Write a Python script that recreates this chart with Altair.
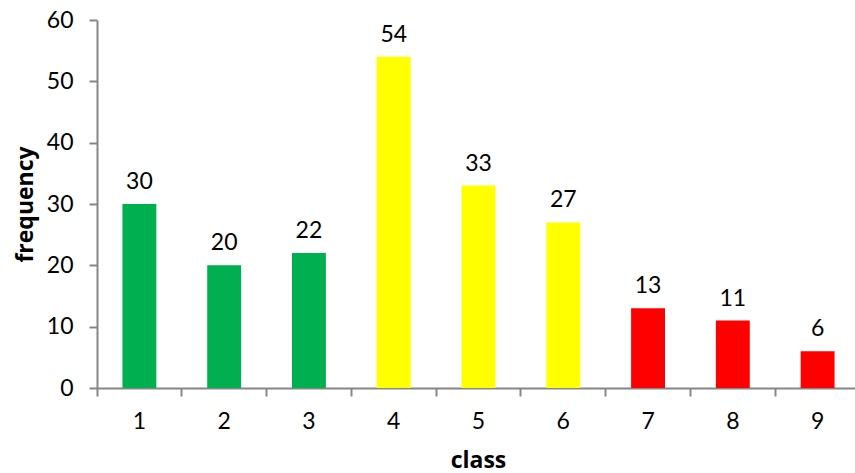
import altair as alt
import pandas as pd

classes = ["1", "2", "3", "4", "5", "6", "7", "8", "9"]
frequency = [30, 20, 22, 54, 33, 27, 13, 11, 6]
groups = ["low", "low", "low", "mid", "mid", "mid", "high", "high", "high"]
group_names = ["low", "mid", "high"]
group_colors = ["#00B050", "#FFFF00", "#FF0000"]
y_ticks = [0, 10, 20, 30, 40, 50, 60]

df = pd.DataFrame({"class": classes, "frequency": frequency, "group": groups})

W = 758
RANGE = 763
H = 368
AXIS_COLOR = "#868686"
FONT = "Lato"
TITLE_FONT = "Open Sans"

x = alt.X(
    "class:N",
    sort=classes,
    title="class",
    scale=alt.Scale(range=[0, RANGE], paddingInner=0.6, paddingOuter=0.3),
    axis=alt.Axis(
        labelAngle=0,
        bandPosition=-0.75,
        tickSize=8,
        tickWidth=2,
        tickColor=AXIS_COLOR,
        domainColor=AXIS_COLOR,
        domainWidth=2,
        labelPadding=14,
        labelFont=FONT,
        labelFontSize=23,
        labelColor="black",
        titleFont=TITLE_FONT,
        titleFontSize=23,
        titleFontWeight="bold",
        titleColor="black",
        titleBaseline="alphabetic",
        titleX=381,
        titleY=79,
    ),
)

y = alt.Y(
    "frequency:Q",
    title="frequency",
    scale=alt.Scale(domain=[0, 60], nice=False),
    axis=alt.Axis(
        values=y_ticks,
        grid=False,
        tickSize=8,
        tickWidth=2,
        tickColor=AXIS_COLOR,
        domainColor=AXIS_COLOR,
        domainWidth=2,
        labelPadding=16,
        labelFont=FONT,
        labelFontSize=23,
        labelColor="black",
        titleFont=TITLE_FONT,
        titleFontSize=23,
        titleFontWeight="bold",
        titleColor="black",
        titleAngle=-90,
        titleBaseline="alphabetic",
        titleX=-65,
        titleY=H / 2,
    ),
)

base = alt.Chart(df)

bars = base.mark_bar().encode(
    x=x,
    y=y,
    color=alt.Color(
        "group:N",
        scale=alt.Scale(domain=group_names, range=group_colors),
        legend=None,
    ),
)

labels = base.mark_text(
    baseline="alphabetic", dy=-15, fontSize=23, font=FONT, color="black"
).encode(x=alt.X("class:N", sort=classes), y="frequency:Q", text="frequency:Q")

chart = (
    alt.layer(bars, labels)
    .properties(
        width=W,
        height=H,
        autosize=alt.AutoSizeParams(type="none"),
        padding={"left": 97, "top": 20, "right": 0, "bottom": 85},
        background="white",
    )
    .configure_view(stroke=None)
)

chart.save("out.html", embed_options={"renderer": "svg", "actions": False})
